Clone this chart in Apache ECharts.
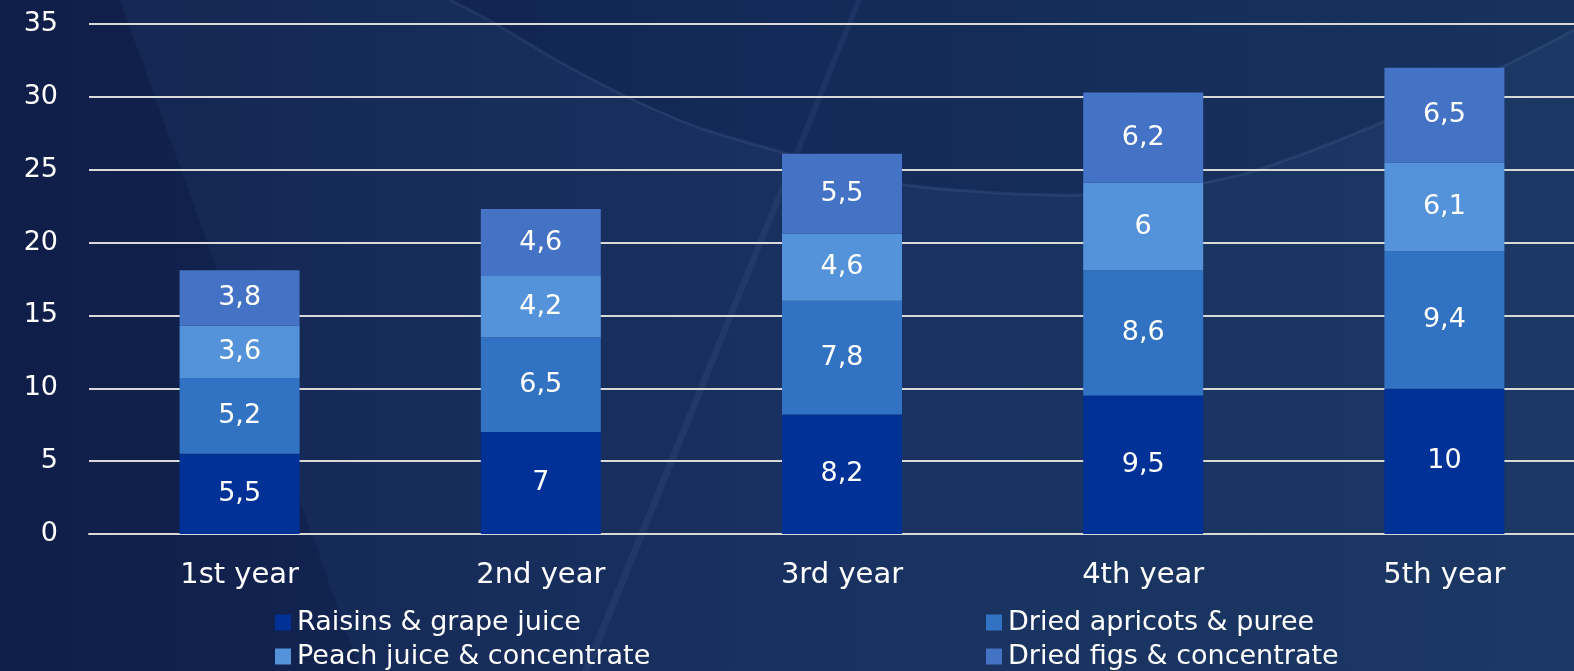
<!DOCTYPE html>
<html><head><meta charset="utf-8">
<script src="https://cdn.jsdelivr.net/npm/echarts@6/dist/echarts.min.js"></script>
<style>html,body{margin:0;padding:0;background:#10214b}#c{width:1574px;height:671px}</style>
</head><body><div id="c"></div>
<script>
const categories = ['1st year','2nd year','3rd year','4th year','5th year'];
const raisins = [5.5, 7, 8.2, 9.5, 10];
const apricots = [5.2, 6.5, 7.8, 8.6, 9.4];
const peach = [3.6, 4.2, 4.6, 6, 6.1];
const figs = [3.8, 4.6, 5.5, 6.2, 6.5];
const seriesNames = ['Raisins & grape juice','Dried apricots & puree','Peach juice & concentrate','Dried figs & concentrate'];
const colors = ['#003197','#3272c2','#5493da','#4472c4'];
const FONT = 'DejaVu Sans';

const chart = echarts.init(document.getElementById('c'));
const lbl = {show:true, position:'inside', color:'#fff', fontSize:27, fontFamily:FONT,
  formatter: p => String(p.value).replace('.', ',')};
const mk = (name, data, color) => ({name, type:'bar', stack:'t', data, barWidth:120,
  itemStyle:{color}, label:lbl, emphasis:{disabled:true}});
const legendItem = (name, left, top) => ({data:[name], left, top, itemWidth:16, itemHeight:16, icon:'rect', padding:0,
  textStyle:{color:'#fff', fontSize:27, fontFamily:FONT, padding:[0,0,0,1]}});
const curve = [[450,0],[494,23],[560,62],[627,97],[700,128],[785,153],[900,184],[1000,193],[1080,195],[1160,190],[1240,175],[1300,155],[1383,122],[1480,78],[1574,30]];
const leftEdge = [[1574,671],[360,671],[300,500],[210,250],[120,0]];
chart.setOption({
  backgroundColor: {type:'linear', x:0, y:0, x2:1, y2:0, colorStops:[{offset:0,color:'#0f1e48'},{offset:0.5,color:'#142a58'},{offset:1,color:'#17325d'}]},
  graphic: [
    {type:'polygon', shape:{points: curve.concat(leftEdge), smooth:0}, style:{fill:'rgba(110,150,210,0.065)'}, z:-10, silent:true},
    {type:'polyline', shape:{points: curve, smooth:0.3}, style:{fill:null, stroke:'rgba(150,180,230,0.10)', lineWidth:3}, z:-10, silent:true},
    {type:'polygon', shape:{points:[[856,0],[862,0],[590,671],[582,671]]}, style:{fill:'rgba(140,170,220,0.08)'}, z:-10, silent:true}
  ],
  animation:false,
  grid:{left:89, width:1506, top:24, bottom:137, containLabel:false, outerBoundsMode:'none'},
  xAxis:{type:'category', data:categories, axisTick:{show:false},
    axisLine:{lineStyle:{color:'#d9d9d9', width:2}},
    axisLabel:{color:'#fff', fontSize:29, fontFamily:FONT, margin:27}},
  yAxis:{type:'value', min:0, max:35, interval:5,
    axisLabel:{color:'#fff', fontSize:27, fontFamily:FONT, margin:31},
    splitLine:{lineStyle:{color:'#d9d9d9', width:2}}, axisLine:{show:false}},
  legend:[
    legendItem(seriesNames[0], 275, 609),
    legendItem(seriesNames[2], 275, 643),
    legendItem(seriesNames[1], 986, 609),
    legendItem(seriesNames[3], 986, 643)
  ],
  series:[mk(seriesNames[0], raisins, colors[0]), mk(seriesNames[1], apricots, colors[1]), mk(seriesNames[2], peach, colors[2]), mk(seriesNames[3], figs, colors[3])]
});
</script></body></html>
